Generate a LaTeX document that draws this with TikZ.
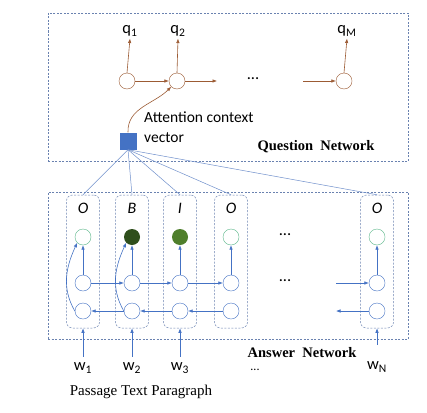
\documentclass[tikz,border=0pt]{standalone}
\usepackage{fontspec}
\setmainfont{Liberation Serif}
\newfontfamily\calib{Carlito}
\usetikzlibrary{arrows.meta,positioning,calc}
\definecolor{qbrown}{HTML}{9C5B34}
\definecolor{ablue}{HTML}{4472C4}
\definecolor{lineblue}{HTML}{7090CC}
\definecolor{boxgray}{HTML}{6A82B0}
\definecolor{tagline}{HTML}{5CB88A}
\definecolor{tagdark}{HTML}{2F4F1C}
\definecolor{tagmid}{HTML}{4F7F2C}

\tikzset{
  netbox/.style={draw=boxgray, dash pattern=on 2pt off 1.5pt, line width=0.5pt},
  colbox/.style={draw=boxgray, dash pattern=on 2pt off 1.5pt, rounded corners=6pt,
    minimum width=33pt, minimum height=133pt, line width=0.5pt},
  qcell/.style={circle, draw=qbrown, minimum size=16pt, inner sep=0pt},
  acell/.style={circle, draw=ablue, minimum size=16pt, inner sep=0pt},
  tagempty/.style={circle, draw=tagline, minimum size=16pt, inner sep=0pt},
  tagdark/.style={circle, fill=tagdark, minimum size=16pt, inner sep=0pt},
  tagmid/.style={circle, fill=tagmid, minimum size=16pt, inner sep=0pt},
  qarrow/.style={qbrown, line width=0.6pt, -{Latex[length=4.5pt,width=3.5pt]}},
  aarrow/.style={ablue, line width=0.6pt, -{Latex[length=4.5pt,width=3.5pt]}},
  lbl/.style={font=\calib\fontsize{16.5}{18}\selectfont, inner sep=2pt},
  title/.style={font=\bfseries\fontsize{14.5}{16}\selectfont, inner sep=0pt}
}

\begin{document}
\begin{tikzpicture}[x=1pt, y=-1pt]
  \useasboundingbox[fill=white] (0,0) rectangle (427,412);

  % question network
  \node[netbox, minimum width=360pt, minimum height=148pt] (qnet) at (228,87) {};
  \node[qcell] (qc1) at (127,81) {};
  \node[qcell] (qc2) at (177,81) {};
  \node[qcell] (qcM) at (344,81) {};
  \node[lbl] (q1) at (130,31) {q\textsubscript{1}};
  \node[lbl] (q2) at (178,31) {q\textsubscript{2}};
  \node[lbl] (qM) at (347,31) {q\textsubscript{M}};
  \node[lbl] (qdots) at (253,79) {...};
  \coordinate (qout) at (217,81);
  \coordinate (qin) at (303,81);

  \draw[qarrow] (qc1) -- (qc2);
  \draw[qarrow] (qc2) -- (qout);
  \draw[qarrow] (qin) -- (qcM);
  \foreach \i in {1,2,M}
    \draw[qarrow] (qc\i.north) -- (q\i.south);

  \node[fill=ablue, minimum size=17pt, inner sep=0pt] (att) at (128,141) {};
  \draw[qarrow] (att.north) to[out=92, in=225] (qc2.south west);
  \node[lbl, anchor=west, align=left, font=\calib\fontsize{15.5}{20}\selectfont] (atttext) at (142,127)
    {Attention context\\vector};
  \node[title] (qtitle) at (316,147) {Question\ \ Network};

  % answer network
  \node[netbox, minimum width=360pt, minimum height=147pt] (anet) at (228,265.5) {};
  \foreach \x/\n/\t/\s in {83/1/O/tagempty, 132/2/B/tagdark, 180/3/I/tagmid,
                           231/4/O/tagempty, 377/N/O/tagempty} {
    \node[colbox] (col\n) at (\x,261.5) {};
    \node[lbl, font=\calib\itshape\fontsize{16}{18}\selectfont] (tag\n) at (\x,208) {\t};
    \node[\s] (t\n) at (\x,237) {};
    \node[acell] (f\n) at (\x,283) {};
    \node[acell] (b\n) at (\x,311) {};
    \draw[aarrow] (f\n) -- (t\n);
    \draw[lineblue, line width=0.5pt] (att.south) -- (col\n.north);
  }
  \node[lbl] (tdots) at (285,235) {...};
  \node[lbl] (fdots) at (285,281) {...};
  \coordinate (fin) at (336,283);
  \coordinate (bout) at (336,311);

  % forward and backward chains
  \draw[aarrow] (f1) -- (f2);
  \draw[aarrow] (f2) -- (f3);
  \draw[aarrow] (f3) -- (f4);
  \draw[aarrow] (fin) -- (fN);
  \draw[aarrow] (b2) -- (b1);
  \draw[aarrow] (b3) -- (b2);
  \draw[aarrow] (b4) -- (b3);
  \draw[aarrow] (bN) -- (bout);
  \draw[aarrow] (b1.west) to[out=120, in=245] (t1.south west);
  \draw[aarrow] (b2.west) to[out=120, in=245] (t2.south west);

  % inputs
  \node[lbl] (w1) at (83,368) {w\textsubscript{1}};
  \node[lbl] (w2) at (132,368) {w\textsubscript{2}};
  \node[lbl] (w3) at (180,368) {w\textsubscript{3}};
  \node[lbl] (wN) at (377,367) {w\textsubscript{N}};
  \foreach \i in {1,2,3}
    \draw[aarrow, shorten <=4pt] (w\i.north) -- (col\i.south);
  \draw[aarrow, shorten <=15pt] (wN.north) -- (colN.south);

  \node[title] (atitle) at (302,353) {Answer\ \ Network};
  \node[font=\calib\fontsize{12}{12}\selectfont, inner sep=0pt] (wdots) at (255,370) {...};
  \node[font=\fontsize{15}{17}\selectfont] (passage) at (141,392) {Passage Text Paragraph};
\end{tikzpicture}
\end{document}
